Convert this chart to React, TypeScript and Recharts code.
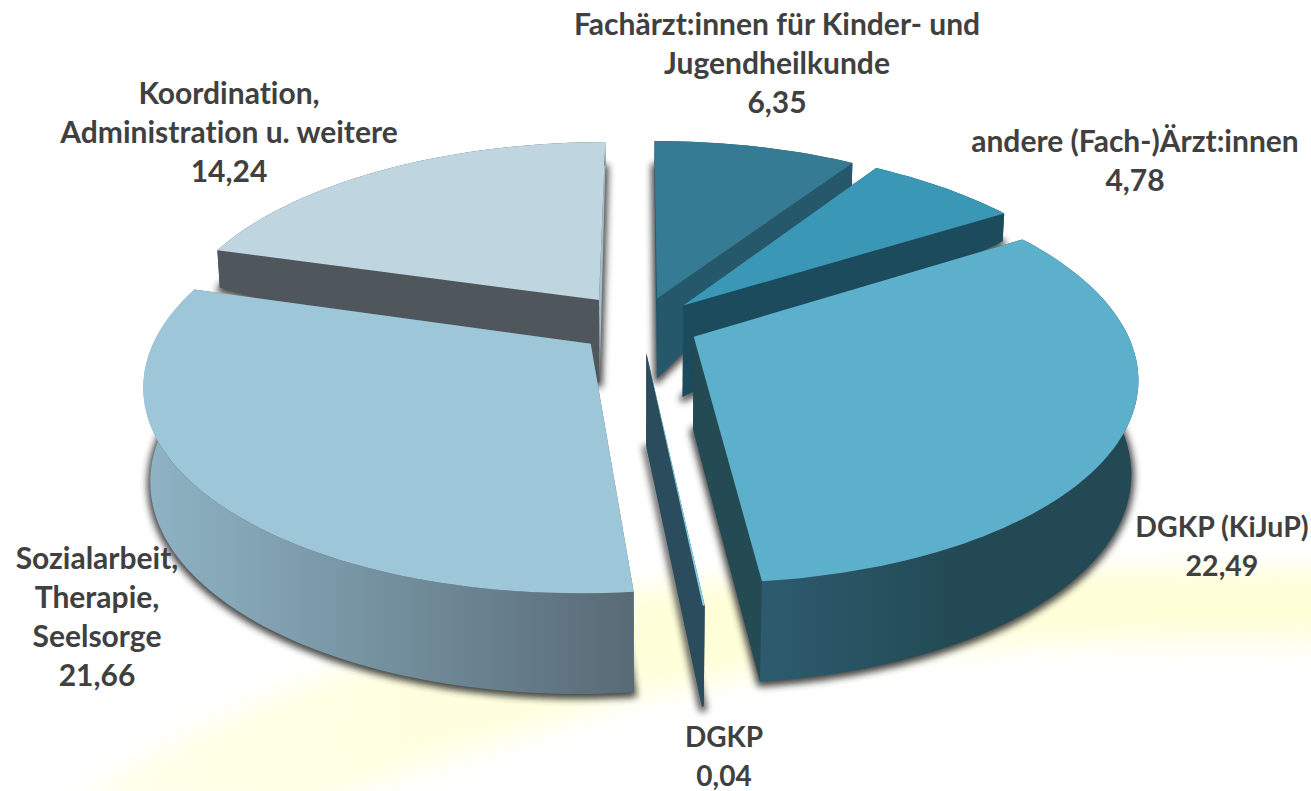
import React from "react";
import { PieChart, Pie } from "recharts";

// drawing order is back to front, so the list starts with Koordination
const categories = [
  "Koordination,\nAdministration u. weitere",
  "Fachärzt:innen für Kinder- und\nJugendheilkunde",
  "andere (Fach-)Ärzt:innen",
  "DGKP (KiJuP)",
  "DGKP",
  "Sozialarbeit,\nTherapie,\nSeelsorge",
];
const values = [14.24, 6.35, 4.78, 22.49, 0.04, 21.66];

const topColors = ["#bfd6e0", "#357b94", "#3a97b5", "#5cb0cb", "#7fd3ea", "#9dc6d8"];
const cutColors = ["#4f575d", "#24586a", "#1b4b5c", "#244a54", "#2b4c5c", "#5b6f7a"];
const endCutColors = ["#a3bdc9", "#24586a", "#1b4b5c", "#244a54", "#2b4c5c", "#5b6f7a"];
const arcColors = ["#4f575d", "#24586a", "#1b4b5c", "url(#wallDgkp)", "#2b4c5c", "url(#wallSozial)"];

// how far each slice is pulled out of the pie
const pullOut = [70, 62, 62, 59, 60, 63];

// label anchor: centre x, first baseline y, font size
const labelX = [229, 777, 1135, 1222, 724, 97];
const labelY = [104, 35, 152, 537, 747, 569];
const labelSize = [30, 30, 30, 28.5, 28, 30];

const WIDTH = 1311;
const HEIGHT = 791;
const CX = 640;
const CY = 325;
const RADIUS = 430;
const TILT = 0.455;
const PERSPECTIVE = 0.185;
const WALL_TAPER = 0.00015;
const RAD = Math.PI / 180;

const total = values.reduce((a, b) => a + b, 0);
const startAngle = 90 + (360 * values[0]) / total;
const data = categories.map((name, i) => ({ name, value: values[i] }));

const wallDepth = (front: number) => {
  if (front >= -0.1) return 92 + 8 * front;
  return 23 + 69 * Math.exp((front + 0.1) / 0.2);
};

// plan position to screen position, the underside sits lower and a little narrower
const project = (x: number, y: number, cx: number, cy: number, r: number, depth: boolean) => {
  const f = y / r;
  const s = 1 / (1 - PERSPECTIVE * f);
  const d = depth ? wallDepth(f) : 0;
  return [cx + x * s * (1 - WALL_TAPER * d), cy + TILT * y * s + d];
};

const toPath = (pts: number[][]) =>
  "M" + pts.map((p) => `${p[0].toFixed(1)},${p[1].toFixed(1)}`).join("L") + "Z";

function sliceGeometry(props: any) {
  const { cx, cy, outerRadius: r, startAngle: a0, endAngle: a1, index } = props;
  const mid = ((a0 + a1) / 2) * RAD;
  const ox = pullOut[index] * Math.cos(mid);
  const oy = -pullOut[index] * Math.sin(mid);
  const steps = Math.max(1, Math.ceil(Math.abs(a1 - a0) / 1.5));
  const plan: number[][] = [];
  for (let i = 0; i <= steps; i++) {
    const a = (a0 + ((a1 - a0) * i) / steps) * RAD;
    plan.push([ox + r * Math.cos(a), oy - r * Math.sin(a)]);
  }
  const top = plan.map((p) => project(p[0], p[1], cx, cy, r, false));
  const low = plan.map((p) => project(p[0], p[1], cx, cy, r, true));
  const apexTop = project(ox, oy, cx, cy, r, false);
  const apexLow = project(ox, oy, cx, cy, r, true);
  return { top, low, apexTop, apexLow };
}

// only the underside throws a shadow
function SliceShadow(props: any) {
  const { low, apexLow } = sliceGeometry(props);
  return (
    <path
      d={toPath([apexLow, ...low])}
      fill="#333"
      stroke="#333"
      strokeWidth={6}
      strokeLinejoin="round"
      transform="translate(0,2)"
      filter="url(#softShadow)"
      opacity={0.9}
    />
  );
}

function Slice3D(props: any) {
  const { top, low, apexTop, apexLow } = sliceGeometry(props);
  const i = props.index;
  const cutA = [apexTop, top[0], low[0], apexLow];
  const cutB = [apexTop, top[top.length - 1], low[low.length - 1], apexLow];
  const arc = [...top, ...[...low].reverse()];
  return (
    <g>
      <path d={toPath(cutB)} fill={endCutColors[i]} />
      <path d={toPath(cutA)} fill={cutColors[i]} />
      <path d={toPath(arc)} fill={arcColors[i]} />
      <path d={toPath([apexTop, ...top])} fill={topColors[i]} />
    </g>
  );
}

function renderLabel(props: any) {
  const i = props.index;
  const lines = [...categories[i].split("\n"), values[i].toFixed(2).replace(".", ",")];
  return (
    <text
      key={i}
      textAnchor="middle"
      fontFamily="Lato, sans-serif"
      fontWeight={700}
      fontSize={labelSize[i]}
      fill="#404040"
      style={{ fontVariantLigatures: "none" }}
    >
      {lines.map((line, j) => (
        <tspan key={j} x={labelX[i]} y={labelY[i] + j * 39}>
          {line}
        </tspan>
      ))}
    </text>
  );
}

export default function App() {
  return (
    <div style={{ position: "absolute", left: 0, top: 0, width: WIDTH, height: HEIGHT, overflow: "hidden", background: "#fff" }}>
      <svg width={WIDTH} height={HEIGHT} style={{ position: "absolute", left: 0, top: 0 }}>
        <defs>
          <filter id="swooshBlur" x="-10%" y="-30%" width="120%" height="160%">
            <feGaussianBlur stdDeviation="14" />
          </filter>
          <linearGradient id="swooshFill" gradientUnits="userSpaceOnUse" x1="80" y1="0" x2="700" y2="0">
            <stop offset="0" stopColor="#ffffea" />
            <stop offset="1" stopColor="#ffffd8" />
          </linearGradient>
        </defs>
        <path
          d="M70,810 C200,710 400,640 640,590 C850,565 1100,570 1340,570 L1340,640 C1100,635 850,645 640,695 C520,730 400,775 300,810 Z"
          fill="url(#swooshFill)"
          filter="url(#swooshBlur)"
        />
      </svg>
      <div style={{ position: "absolute", left: 0, top: 0 }}>
        <PieChart width={WIDTH} height={HEIGHT} margin={{ top: 0, right: 0, bottom: 0, left: 0 }}>
          <defs>
            <filter id="softShadow" filterUnits="userSpaceOnUse" x="0" y="0" width={WIDTH} height={HEIGHT}>
              <feGaussianBlur stdDeviation="3.5" />
            </filter>
            <linearGradient id="wallSozial" gradientUnits="userSpaceOnUse" x1="145" y1="0" x2="632" y2="0">
              <stop offset="0" stopColor="#8fb4c5" />
              <stop offset="1" stopColor="#586b76" />
            </linearGradient>
            <linearGradient id="wallDgkp" gradientUnits="userSpaceOnUse" x1="757" y1="0" x2="960" y2="0">
              <stop offset="0" stopColor="#2d5b6f" />
              <stop offset="1" stopColor="#234a54" />
            </linearGradient>
          </defs>
          <Pie
            data={data}
            dataKey="value"
            nameKey="name"
            cx={CX}
            cy={CY}
            outerRadius={RADIUS}
            startAngle={startAngle}
            endAngle={startAngle - 360}
            stroke="none"
            shape={SliceShadow}
            isAnimationActive={false}
          />
          <Pie
            data={data}
            dataKey="value"
            nameKey="name"
            cx={CX}
            cy={CY}
            outerRadius={RADIUS}
            startAngle={startAngle}
            endAngle={startAngle - 360}
            stroke="none"
            shape={Slice3D}
            label={renderLabel}
            labelLine={false}
            isAnimationActive={false}
          />
        </PieChart>
      </div>
    </div>
  );
}
